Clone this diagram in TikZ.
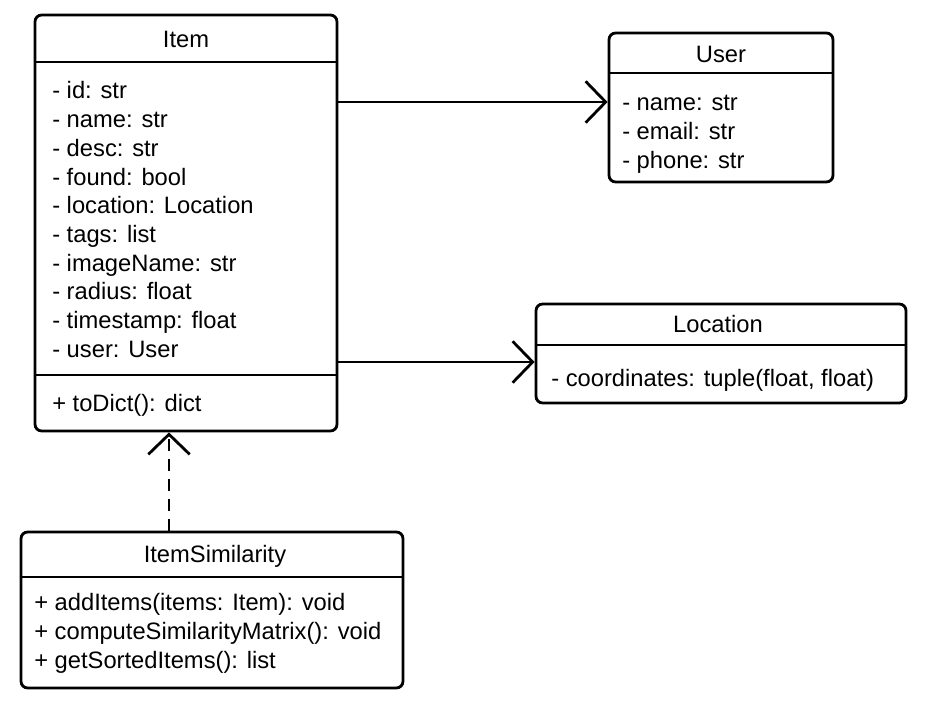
\documentclass[tikz,border=0pt]{standalone}
\usepackage{fontspec}
\setmainfont{Liberation Sans}
\usetikzlibrary{arrows.meta}
\usetikzlibrary{positioning}

\tikzset{
  classbox/.style = {draw, line width=2.1pt, rounded corners=5pt, inner sep=0pt},
  sepline/.style  = {line width=2.1pt},
  txt/.style      = {inner sep=0pt, anchor=base west},
  ttl/.style      = {inner sep=0pt, anchor=base},
  assoc/.style    = {line width=2.1pt, -{Straight Barb[length=15pt, width=31pt]}},
  depend/.style   = {assoc, dash pattern=on 9pt off 6pt}
}

\begin{document}
\begin{tikzpicture}[x=0.75pt, y=-0.75pt, font=\fontsize{17.8}{21}\selectfont]
\useasboundingbox (0,0) rectangle (925,705);

% class boxes
\node[classbox, minimum width=226.5pt, minimum height=312pt] (item) at (186,223) {};
\node[classbox, minimum width=168pt, minimum height=111.75pt] (user) at (721,107.5) {};
\node[classbox, minimum width=277.5pt, minimum height=74.25pt] (location) at (721,353.5) {};
\node[classbox, minimum width=286.5pt, minimum height=117pt] (itemsim) at (212,610) {};

% separators
\draw[sepline] (item.west |- 0,62) -- (item.east |- 0,62);
\draw[sepline] (item.west |- 0,375) -- (item.east |- 0,375);
\draw[sepline] (user.west |- 0,73) -- (user.east |- 0,73);
\draw[sepline] (location.west |- 0,345) -- (location.east |- 0,345);
\draw[sepline] (itemsim.west |- 0,577) -- (itemsim.east |- 0,577);

% Item
\node[ttl] (item-t) at (186,48) {Item};
\foreach \a [count=\i from 0] in {id: str, name: str, desc: str, found: bool,
    location: Location, tags: list, imageName: str, radius: float,
    timestamp: float, user: User}
  \node[txt] (item-\i) at (52,99+28.7*\i) {- \a};
\node[txt] (item-m) at (52,412) {+ toDict(): dict};

% User
\node[ttl] (user-t) at (721,63) {User};
\foreach \a [count=\i from 0] in {name: str, email: str, phone: str}
  \node[txt] (user-\i) at (622,111+28.7*\i) {- \a};

% Location
\node[ttl] (location-t) at (718,333) {Location};
\node[txt] (location-0) at (551,386.5) {- coordinates: tuple(float, float)};

% ItemSimilarity
\node[ttl] (itemsim-t) at (215,563) {ItemSimilarity};
\foreach \m [count=\i from 0] in {addItems(items: Item): void,
    computeSimilarityMatrix(): void, getSortedItems(): list}
  \node[txt] (itemsim-\i) at (34,611+28.7*\i) {+ \m};

% connectors
\draw[assoc] (item.east |- 0,102) -- (user.west |- 0,102);
\draw[assoc] (item.east |- 0,362) -- (location.west |- 0,362);
\draw[depend] (itemsim.north -| 169,0) -- (item.south -| 169,0);
\end{tikzpicture}
\end{document}
